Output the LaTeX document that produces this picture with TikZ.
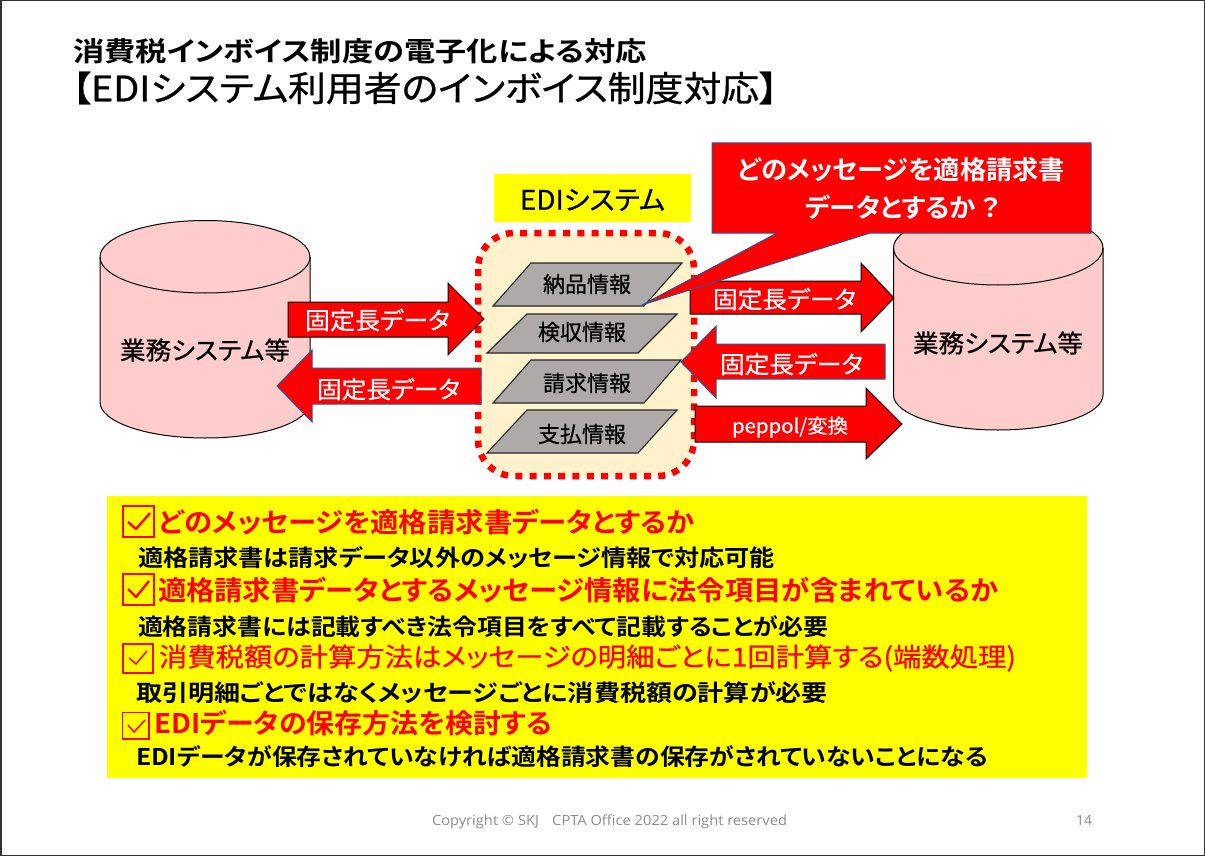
\documentclass[tikz,border=0pt]{standalone}
\usepackage{fontspec}
\usepackage{graphicx}
\setmainfont{Noto Sans CJK JP}[RawFeature=+palt,FakeBold=0.7]
\newfontfamily\cjkbold{Noto Sans CJK JP Bold}[RawFeature=+palt]
\newfontfamily\footfont{Open Sans}
\definecolor{edgeblue}{HTML}{2F5597}
\definecolor{cylfill}{HTML}{FFCCCC}
\definecolor{boxfill}{HTML}{FFF2CC}
\definecolor{paragray}{HTML}{AEAAAA}
\definecolor{footgray}{HTML}{8C8C8C}
\definecolor{pureyellow}{RGB}{255,255,0}
\definecolor{purered}{RGB}{255,0,0}
% fit text to a width in px, with a given font size
\newcommand{\fitw}[3]{\resizebox{#1pt}{\height}{\fontsize{#2}{#2}\selectfont #3}}
\tikzset{
  ltext/.style={inner sep=0pt,outer sep=0pt,anchor=west},
  blockb/.style={fill=purered,draw=black,line width=1pt,line join=miter},
  blockblue/.style={fill=purered,draw=edgeblue,line width=1pt,line join=miter},
  para/.style={fill=paragray,draw=black!85,line width=1.1pt},
  cyl/.style={fill=cylfill,draw=black,line width=1pt},
  chk/.style={draw=purered,line width=2pt},
  chkmark/.style={draw=purered,line width=1.5pt,line join=round}
}
\begin{document}
\begin{tikzpicture}[x=1pt,y=-1pt]
\useasboundingbox (0,0) rectangle (1205,856);
\fill[white] (0,0) rectangle (1205,856);
\draw[draw=black!80,line width=1.5pt] (0.75,0.75) rectangle (1204.25,855.25);

% titles
\node[ltext] (title1) at (73,51) {\fitw{574}{27}{\cjkbold 消費税インボイス制度の電子化による対応}};
\node[ltext] (title2) at (72,88) {\fitw{706}{35}{【EDIシステム利用者のインボイス制度対応】}};

% cylinders
\path[cyl] (100,257) -- (100,402) .. controls (100,422) and (147,438) .. (205,438) .. controls (263,438) and (310,422) .. (310,402) -- (310,257) .. controls (310,237) and (263,220.5) .. (205,220.5) .. controls (147,220.5) and (100,237) .. (100,257) -- cycle;
\draw[black,line width=1pt] (100,257) .. controls (100,277) and (147,293) .. (205,293) .. controls (263,293) and (310,277) .. (310,257);
\path[cyl] (893.5,248) -- (893.5,395) .. controls (893.5,414) and (940,430) .. (998,430) .. controls (1056,430) and (1103,414) .. (1103,395) -- (1103,248) .. controls (1103,228) and (1056,211) .. (998,211) .. controls (940,211) and (893.5,228) .. (893.5,248) -- cycle;
\draw[black,line width=1pt] (893.5,248) .. controls (893.5,268) and (940,285) .. (998,285) .. controls (1056,285) and (1103,268) .. (1103,248);
\node[ltext] (sysL) at (120,350) {\fitw{170}{25}{業務システム等}};
\node[ltext] (sysR) at (913,343) {\fitw{170}{25}{業務システム等}};

% EDI label
\fill[pureyellow] (494,174) rectangle (691,222);
\node[ltext] (edi) at (520,200) {\fitw{145}{27}{EDIシステム}};

% EDI container
\draw[fill=boxfill,draw=purered,line width=6.5pt,dash pattern=on 7pt off 7.3pt,rounded corners=36pt] (478,233) rectangle (694,476);

% parallelograms
\path[para] (531,263) -- (682,263) -- (644,306) -- (493,306) -- cycle;
\path[para] (527,314) -- (677,314) -- (638,353) -- (487,353) -- cycle;
\path[para] (531,360) -- (681,360) -- (644,403) -- (493,403) -- cycle;
\path[para] (527,410) -- (677,410) -- (638,453) -- (487,453) -- cycle;
\node[ltext] (p1) at (543,284) {\fitw{88}{22}{納品情報}};
\node[ltext] (p2) at (538,332) {\fitw{88}{22}{検収情報}};
\node[ltext] (p3) at (543,383) {\fitw{88}{22}{請求情報}};
\node[ltext] (p4) at (538,434) {\fitw{88}{22}{支払情報}};

% block arrows
\path[blockb] (288,302) -- (448,302) -- (448,283) -- (484,319) -- (448,355) -- (448,337) -- (288,337) -- cycle;
\path[blockblue] (481,368) -- (312,368) -- (312,350) -- (277,386) -- (312,422) -- (312,404) -- (481,404) -- cycle;
\path[blockb] (690,281) -- (861,281) -- (861,263) -- (894,298) -- (861,332) -- (861,314) -- (690,314) -- cycle;
\path[blockblue] (885,344) -- (716,344) -- (716,326) -- (681,362) -- (716,398) -- (716,379) -- (885,379) -- cycle;
\path[blockb] (695,406) -- (866,406) -- (866,388) -- (902,424) -- (866,459) -- (866,442) -- (695,442) -- cycle;
\node[ltext,white] (a1) at (305,320) {\fitw{145}{24}{固定長データ}};
\node[ltext,white] (a2) at (317,389) {\fitw{143}{24}{固定長データ}};
\node[ltext,white] (a3) at (713,299) {\fitw{143}{24}{固定長データ}};
\node[ltext,white] (a4) at (720,364) {\fitw{143}{24}{固定長データ}};
\node[ltext,white] (a5) at (732,427) {\fitw{116}{20}{peppol/変換}};

% callout
\path[fill=purered,draw=edgeblue,line width=1pt,line join=miter] (712,143) -- (1091,143) -- (1091,233) -- (870,233) -- (642,305) -- (777,233) -- (712,233) -- cycle;
\node[ltext,white] (c1) at (738,170) {\fitw{327}{26}{\cjkbold どのメッセージを適格請求書}};
\node[ltext,white] (c2) at (805,207) {\fitw{195}{26}{\cjkbold データとするか\hspace{0.2em}？}};

% yellow list panel
\fill[pureyellow] (107,496) rectangle (1087,778);

% checkboxes
\draw[chk] (122.5,505.5) rectangle (154,536.5);
\draw[chkmark,line width=2.4pt] (128,522) -- (136,529) -- (150,513);
\draw[chk] (122.5,573.5) rectangle (154,605);
\draw[chkmark,line width=2.4pt] (128,589) -- (136,597) -- (149,581);
\draw[chk] (123,643.5) rectangle (153,673);
\draw[chkmark] (129,658) -- (136,664) -- (147,651);
\draw[chk,line width=1.6pt] (122.5,712.5) rectangle (149,739);
\draw[chkmark] (128,725) -- (134,732) -- (145,720);

% list text
\node[ltext,purered] (l1) at (159,522) {\fitw{536}{27}{\cjkbold どのメッセージを適格請求書データとするか}};
\node[ltext] (l2) at (138,558) {\fitw{637}{23}{\cjkbold 適格請求書は請求データ以外のメッセージ情報で対応可能}};
\node[ltext,purered] (l3) at (158,590) {\fitw{840}{27}{\cjkbold 適格請求書データとするメッセージ情報に法令項目が含まれているか}};
\node[ltext] (l4) at (138,627) {\fitw{690}{23}{\cjkbold 適格請求書には記載すべき法令項目をすべて記載することが必要}};
\node[ltext,purered] (l5) at (159,658) {\fitw{857}{26}{消費税額の計算方法はメッセージの明細ごとに1回計算する(端数処理)}};
\node[ltext] (l6) at (136,693) {\fitw{692}{23}{\cjkbold 取引明細ごとではなくメッセージごとに消費税額の計算が必要}};
\node[ltext,purered] (l7) at (154,723) {\fitw{398}{27}{\cjkbold EDIデータの保存方法を検討する}};
\node[ltext] (l8) at (136,757) {\fitw{852}{23}{\cjkbold EDIデータが保存されていなければ適格請求書の保存がされていないことになる}};

% footer
\node[ltext,footgray] (foot) at (432,821.5) {\fitw{355}{14}{\footfont Copyright © SKJ\hspace{0.9em}CPTA Office 2022 all right reserved}};
\node[ltext,footgray] (page) at (1076,820) {\fontsize{14}{14}\selectfont\footfont 14};
\end{tikzpicture}
\end{document}
